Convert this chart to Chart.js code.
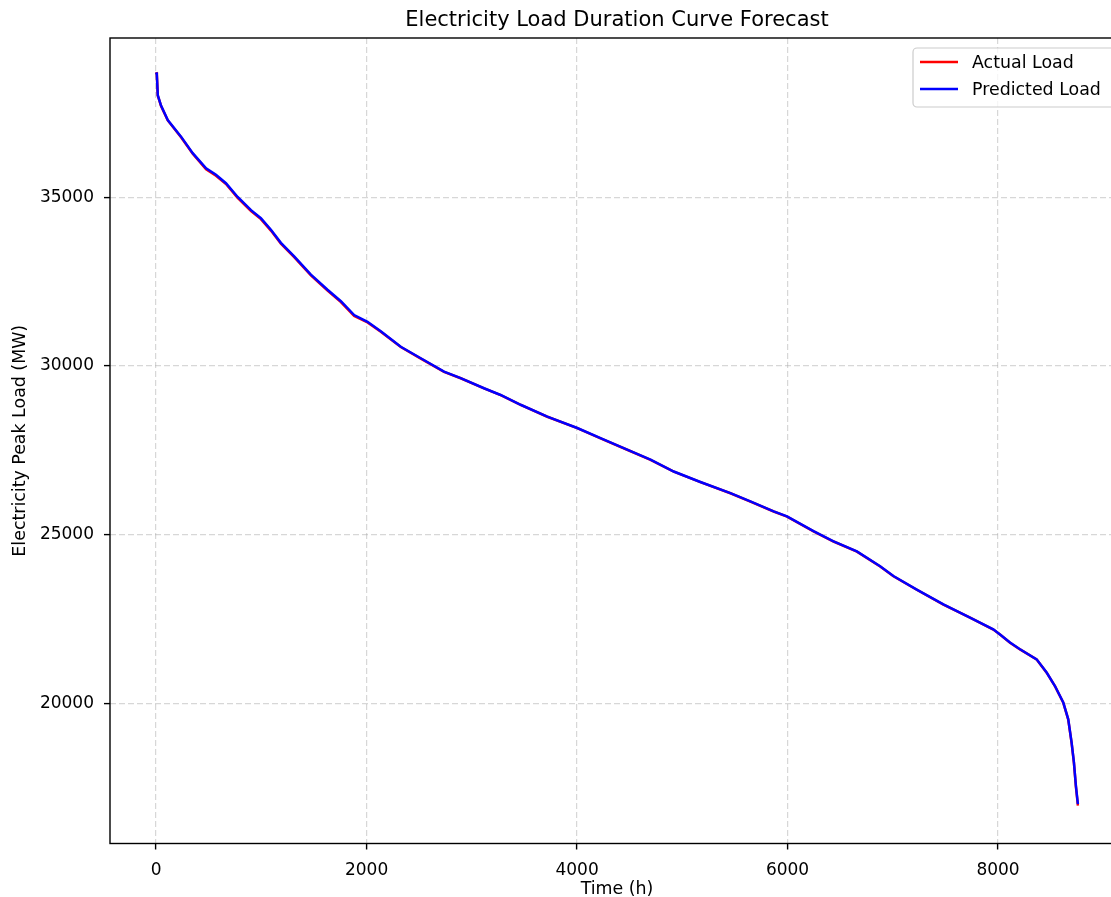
<!DOCTYPE html>
<html>
<head>
<meta charset="utf-8">
<script src="https://cdn.jsdelivr.net/npm/chart.js@4"></script>
<style>
  html, body { margin: 0; padding: 0; overflow: hidden; background: #fff; }
  #wrap { width: 1125px; height: 897px; }
</style>
</head>
<body>
<div id="wrap"><canvas id="ldc" width="1125" height="897"></canvas></div>
<script>
const FONT = "DejaVu Sans";

// hours, sorted load (MW)
const hours = [0, 7, 16, 47, 111, 237, 348, 475, 569, 664, 775, 902, 996, 1091, 1186,
  1312, 1471, 1629, 1756, 1882, 2009, 2135, 2325, 2515, 2736, 2894, 3116, 3274, 3464, 3717,
  4002, 4223, 4476, 4698, 4919, 5172, 5457, 5647, 5868, 5995, 6247, 6437, 6659, 6880, 7006,
  7228, 7481, 7734, 7955, 8019, 8114, 8209, 8367, 8462, 8541, 8620, 8667, 8699, 8721, 8740, 8759];

const actualLoad = [38710, 38645, 38020, 37710, 37280, 36780, 36290, 35835, 35640, 35395,
  34985, 34595, 34355, 34015, 33625, 33225, 32685, 32235, 31895, 31485,
  31290, 31015, 30560, 30220, 29825, 29635, 29335, 29135, 28845, 28495,
  28155, 27855, 27515, 27215, 26865, 26555, 26225, 25980, 25685, 25535,
  25095, 24795, 24495, 24055, 23765, 23365, 22925, 22535, 22185, 22035,
  21795, 21595, 21295, 20905, 20505, 20015, 19515, 18825, 18235, 17525, 16960];

const predictedLoad = [38700, 38650, 38030, 37720, 37290, 36800, 36310, 35860, 35670, 35420,
  35010, 34620, 34380, 34040, 33650, 33250, 32710, 32260, 31920, 31510,
  31310, 31030, 30570, 30230, 29830, 29640, 29340, 29140, 28850, 28500,
  28160, 27860, 27520, 27220, 26870, 26560, 26230, 25985, 25690, 25540,
  25100, 24800, 24500, 24060, 23770, 23370, 22930, 22540, 22190, 22040,
  21800, 21600, 21300, 20910, 20510, 20020, 19530, 18840, 18250, 17550, 17010];

const xTicks = [0, 2000, 4000, 6000, 8000];
const yTicks = [20000, 25000, 30000, 35000];

const toPts = arr => arr.map((v, i) => ({ x: hours[i], y: v }));

const gridStyle = {
  color: "rgba(176,176,176,0.5)", lineWidth: 1.2,
  tickLength: 6, tickColor: "#000", tickWidth: 1.4, tickBorderDash: []
};
const tickFont = { family: FONT, size: 17 };
const labelFont = { family: FONT, size: 17.4 };

// frame, title, legend drawn on top
const decorations = {
  id: "decorations",
  afterDraw(chart) {
    const { ctx, chartArea: a } = chart;
    ctx.save();
    ctx.strokeStyle = "#000";
    ctx.lineWidth = 1.4;
    ctx.strokeRect(a.left, a.top, a.right - a.left, a.bottom - a.top);

    ctx.fillStyle = "#000";
    ctx.font = "21px " + FONT;
    ctx.textAlign = "center";
    ctx.textBaseline = "middle";
    ctx.fillText("Electricity Load Duration Curve Forecast", (a.left + a.right) / 2, 21);

    // legend box
    const bx = 913, by = 48, bw = 202, bh = 59, r = 4;
    ctx.beginPath();
    ctx.moveTo(bx + r, by);
    ctx.arcTo(bx + bw, by, bx + bw, by + bh, r);
    ctx.arcTo(bx + bw, by + bh, bx, by + bh, r);
    ctx.arcTo(bx, by + bh, bx, by, r);
    ctx.arcTo(bx, by, bx + bw, by, r);
    ctx.closePath();
    ctx.fillStyle = "rgba(255,255,255,0.8)";
    ctx.fill();
    ctx.strokeStyle = "#cccccc";
    ctx.lineWidth = 1.2;
    ctx.stroke();

    ctx.font = "17.4px " + FONT;
    ctx.textAlign = "left";
    chart.data.datasets.forEach((ds, i) => {
      const y = 62 + i * 27;
      ctx.strokeStyle = ds.borderColor;
      ctx.lineWidth = 2.5;
      ctx.beginPath();
      ctx.moveTo(920, y);
      ctx.lineTo(958, y);
      ctx.stroke();
      ctx.fillStyle = "#000";
      ctx.fillText(ds.label, 972, y + 1);
    });
    ctx.restore();
  }
};

new Chart(document.getElementById("ldc"), {
  type: "line",
  data: {
    datasets: [
      { label: "Actual Load", data: toPts(actualLoad), borderColor: "#ff0000", order: 1 },
      { label: "Predicted Load", data: toPts(predictedLoad), borderColor: "#0000ff", order: 0 }
    ]
  },
  options: {
    responsive: false,
    animation: false,
    layout: { padding: { top: 38, right: 1, left: 0, bottom: 0 } },
    elements: {
      point: { radius: 0 },
      line: { borderWidth: 2.5, tension: 0, fill: false }
    },
    plugins: { legend: { display: false }, tooltip: { enabled: false }, title: { display: false } },
    scales: {
      x: {
        type: "linear", min: -438, max: 9197,
        afterBuildTicks: s => { s.ticks = xTicks.map(v => ({ value: v })); },
        afterFit: s => { s.height = 53.5; },
        ticks: { color: "#000", font: tickFont, padding: 11, maxRotation: 0, autoSkip: false, callback: v => String(v) },
        grid: gridStyle,
        border: { display: false, dash: [6, 3] },
        title: { display: true, text: "Time (h)", color: "#000", font: { family: FONT, size: 17.4, lineHeight: 0.9 }, padding: { top: 0, bottom: 0 } }
      },
      y: {
        min: 15840, max: 39725,
        afterBuildTicks: s => { s.ticks = yTicks.map(v => ({ value: v })); },
        afterFit: s => { s.width = 110; },
        ticks: { color: "#000", font: tickFont, padding: 10, autoSkip: false, callback: v => String(v) },
        grid: gridStyle,
        border: { display: false, dash: [6, 3] },
        title: { display: true, text: "Electricity Peak Load (MW)", color: "#000", font: labelFont, padding: { top: 10, bottom: 0 } }
      }
    }
  },
  plugins: [decorations]
});
</script>
</body>
</html>
